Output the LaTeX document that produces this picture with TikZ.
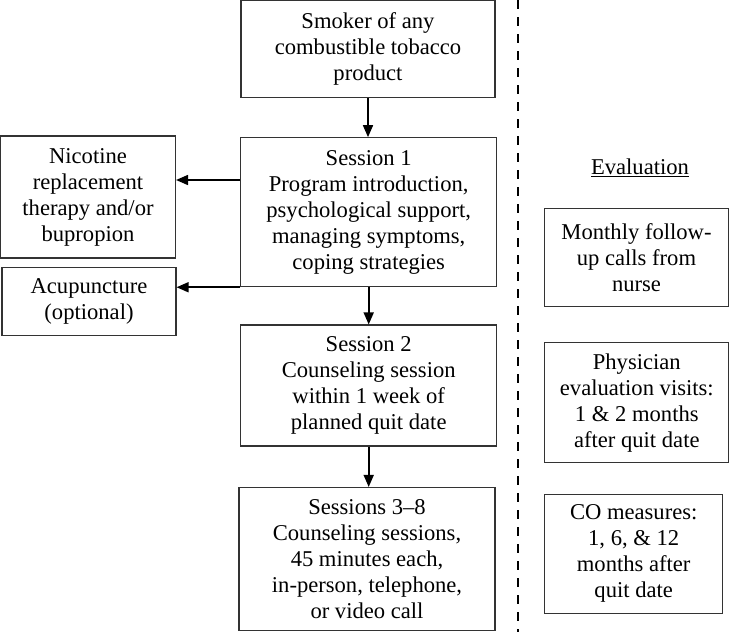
\documentclass[tikz,border=0pt]{standalone}
\usepackage{fontspec}
\setmainfont{Liberation Serif}
\usetikzlibrary{arrows.meta}
\tikzset{
  box/.style={draw=black!80, line width=1.1pt, align=center, inner sep=0pt, font=\fontsize{22.6}{26}\selectfont},
  arr/.style={line width=1.6pt, -{Triangle[length=12pt,width=10pt]}},
}
\begin{document}
\begin{tikzpicture}[x=1pt,y=-1pt]
	\useasboundingbox (0,0) rectangle (730,632);
	%PROGRAM
	\node[box, minimum width=254pt, minimum height=97pt] (smk) at (368,49) {Smoker of any\\combustible tobacco\\product};
	\node[box, minimum width=256pt, minimum height=149pt] (ses1) at (368.7,212.2) {Session 1\\Program introduction,\\psychological support,\\managing symptoms,\\coping strategies};
	\node[box, minimum width=256pt, minimum height=121pt] (ses2) at (368.7,385.5) {Session 2\\Counseling session\\within 1 week of\\planned quit date};
	\node[box, minimum width=256pt, minimum height=143pt] (ses38) at (367,559) {Sessions 3--8\\Counseling sessions,\\45 minutes each,\\in-person, telephone,\\or video call};
	%SUPPORT
	\node[box, minimum width=175pt, minimum height=122pt] (nrt) at (88,197) {Nicotine\\replacement\\therapy and/or\\bupropion};
	\node[box, minimum width=174pt, minimum height=68pt] (acu) at (89,301.7) {Acupuncture\\(optional)};
	%EVALUATION
	\node[font=\fontsize{22.6}{26}\selectfont, inner sep=0pt] (evl) at (640,168) {\underline{Evaluation}};
	\node[box, minimum width=184pt, minimum height=98pt] (mon) at (636.5,257.8) {Monthly follow-\\up calls from\\nurse};
	\node[box, minimum width=184pt, minimum height=120pt] (phy) at (636.8,402.7) {Physician\\evaluation visits:\\1 \& 2 months\\after quit date};
	\node[box, minimum width=178pt, minimum height=119pt] (com) at (633.7,553.8) {CO measures:\\1, 6, \& 12\\months after\\quit date};
	%ARROWS
	\draw[arr] (smk.south) -- (smk.south |- ses1.north);
	\draw[arr] ([yshift=32.2pt]ses1.west) -- ([yshift=32.2pt]ses1.west -| nrt.east);
	\draw[arr] (ses1.south west) -- (ses1.south west -| acu.east);
	\draw[arr] (ses1.south) -- (ses2.north);
	\draw[arr] (ses2.south) -- (ses2.south |- ses38.north);
	%DIVIDER
	\coordinate (divtop) at (518.3,0);
	\coordinate (divbot) at (518.3,632);
	\draw[line width=2.2pt, dash pattern=on 9pt off 8pt] (divtop) -- (divbot);
\end{tikzpicture}
\end{document}
